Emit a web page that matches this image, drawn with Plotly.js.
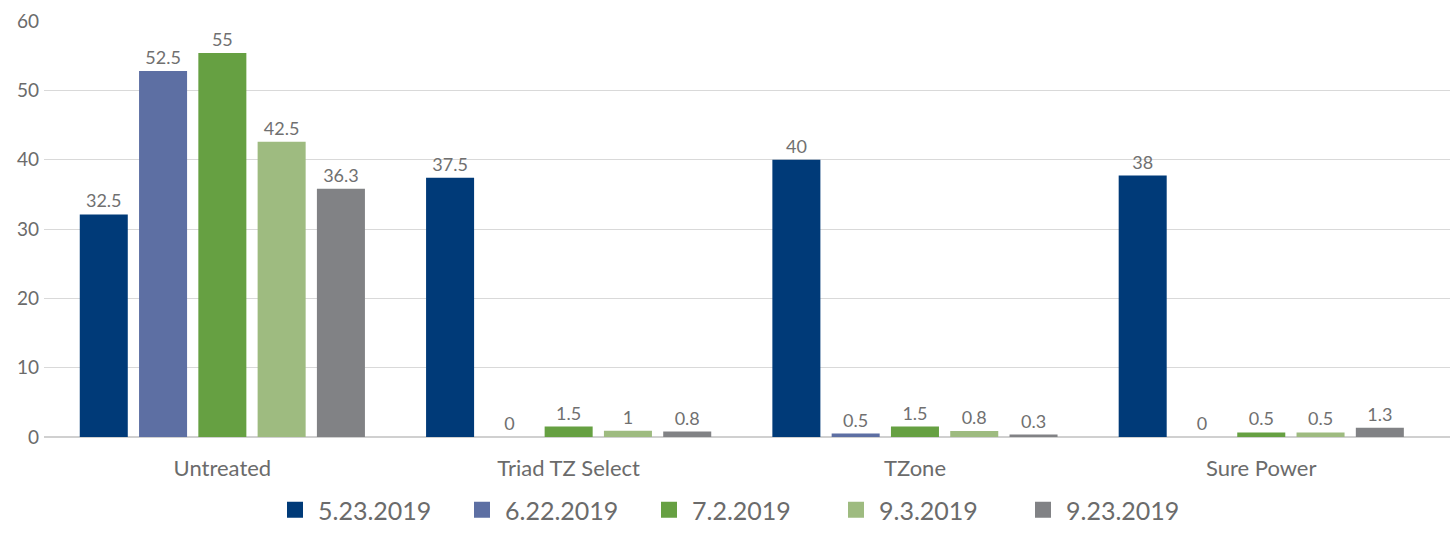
<!DOCTYPE html>
<html><head><meta charset="utf-8">
<script src="https://cdn.plot.ly/plotly-3.0.1.min.js"></script>
<style>body{margin:0;background:#fff}#chart{width:1454px;height:533px}</style>
</head><body><div id="chart"></div>
<script>
const categories = ["Untreated", "Triad TZ Select", "TZone", "Sure Power"];
const seriesNames = ["5.23.2019", "6.22.2019", "7.2.2019", "9.3.2019", "9.23.2019"];
const s1 = [32.1, 37.4, 40.0, 37.7];
const s2 = [52.8, 0, 0.5, 0];
const s3 = [55.4, 1.5, 1.5, 0.65];
const s4 = [42.6, 0.9, 0.85, 0.65];
const s5 = [35.8, 0.78, 0.35, 1.35];
const t1 = ["32.5", "37.5", "40", "38"];
const t2 = ["52.5", "0", "0.5", "0"];
const t3 = ["55", "1.5", "1.5", "0.5"];
const t4 = ["42.5", "1", "0.8", "0.5"];
const t5 = ["36.3", "0.8", "0.3", "1.3"];
const yTicks = [0, 10, 20, 30, 40, 50, 60];
const colors = ["#003A78", "#5D6FA3", "#66A042", "#9EBB80", "#818285"];

const vals = [s1, s2, s3, s4, s5];
const texts = [t1, t2, t3, t4, t5];
const data = vals.map((v, i) => ({
  type: "bar", x: categories, y: v, name: seriesNames[i],
  marker: {color: colors[i]}, showlegend: false, legendgroup: "g" + i,
  text: texts[i], textposition: "outside", cliponaxis: false,
  textfont: {family: "Lato, sans-serif", size: 18, color: "#707070"},
  hoverinfo: "none"
}));
// legend entries (square swatches)
seriesNames.forEach((n, i) => data.push({
  type: "scatter", mode: "markers", x: [categories[0]], y: [null], name: n,
  legendgroup: "g" + i, showlegend: true,
  marker: {symbol: "square", size: 22, color: colors[i]}, hoverinfo: "none"
}));
const layout = {
  width: 1454, height: 533,
  margin: {l: 44, r: 4, t: 21, b: 96},
  paper_bgcolor: "#fff", plot_bgcolor: "#fff",
  barmode: "group", bargap: 0.144, bargroupgap: 0.19,
  font: {family: "Lato, sans-serif", color: "#6b6b6b"},
  xaxis: {type: "category", range: [-0.515, 3.545], tickfont: {size: 22, color: "#6b6b6b"},
          showgrid: false, showline: false, ticks: "", ticklen: 0, ticklabelstandoff: 16},
  yaxis: {range: [0, 60], tickvals: yTicks, tickfont: {size: 19, color: "#6b6b6b"},
          gridcolor: "#D9D9D9", gridwidth: 1, zeroline: true, zerolinecolor: "#D0D0D0", zerolinewidth: 1.5,
          showline: false, ticks: "", ticklen: 0, ticklabelstandoff: 4},
  showlegend: true,
  legend: {orientation: "h", xref: "container", yref: "container",
           x: 272 / 1454, xanchor: "left", y: 0, yanchor: "bottom",
           font: {size: 25, color: "#6b6b6b"}, itemwidth: 36, tracegroupgap: 0,
           entrywidth: 136, entrywidthmode: "pixels",
           traceorder: "normal", itemsizing: "trace"}
};
Plotly.newPlot("chart", data, layout, {displayModeBar: false, staticPlot: true});
</script></body></html>
